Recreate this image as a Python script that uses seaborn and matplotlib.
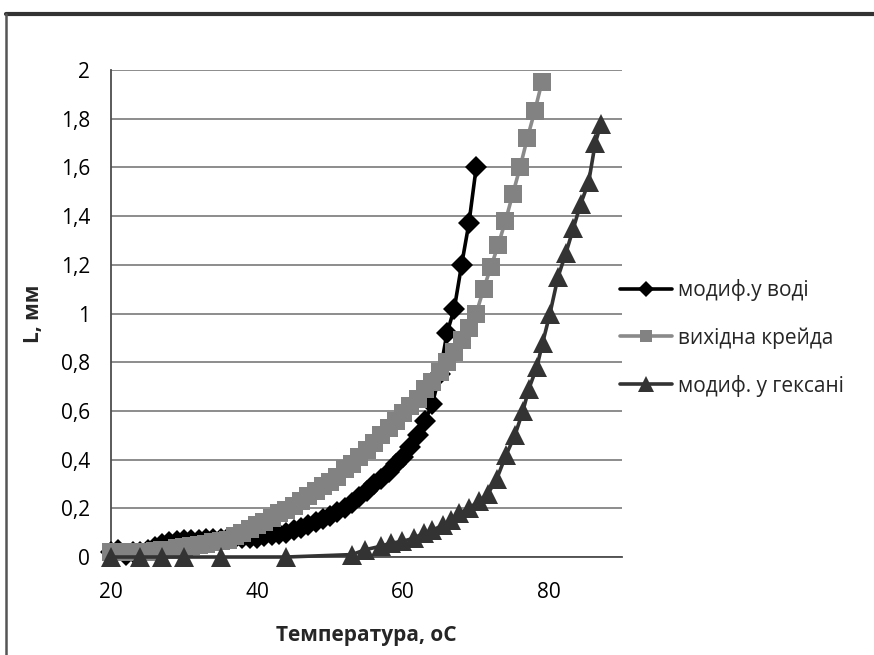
import matplotlib
matplotlib.use('Agg')
import matplotlib.pyplot as plt
from matplotlib.lines import Line2D
import seaborn as sns
import pandas as pd

# модиф. у воді (чорні ромби)
voda_t = list(range(20, 71))
voda_L = [0.02, 0.03, 0.01, 0.02, 0.02, 0.03, 0.04, 0.055, 0.06, 0.065,
          0.07, 0.07, 0.07, 0.075, 0.075, 0.075, 0.08, 0.08, 0.08, 0.08,
          0.08, 0.085, 0.09, 0.095, 0.10, 0.11, 0.12, 0.13, 0.145, 0.155,
          0.17, 0.185, 0.20, 0.22, 0.245, 0.27, 0.30, 0.32, 0.35, 0.38,
          0.41, 0.45, 0.50, 0.56, 0.63, 0.75, 0.92, 1.02, 1.20, 1.37,
          1.60]

# вихідна крейда (сірі квадрати)
kreyda_t = list(range(20, 80))
kreyda_L = [0.02, 0.02, 0.02, 0.02, 0.02, 0.02, 0.025, 0.03, 0.03, 0.035,
            0.04, 0.045, 0.05, 0.055, 0.06, 0.065, 0.07, 0.085, 0.10, 0.115,
            0.13, 0.145, 0.16, 0.18, 0.195, 0.21, 0.23, 0.25, 0.27, 0.29,
            0.31, 0.33, 0.36, 0.38, 0.41, 0.44, 0.47, 0.50, 0.53, 0.56,
            0.59, 0.62, 0.65, 0.69, 0.72, 0.76, 0.80, 0.84, 0.89, 0.94,
            1.00, 1.10, 1.19, 1.28, 1.38, 1.49, 1.60, 1.72, 1.83, 1.95]

# модиф. у гексані (темні трикутники)
heksan_t = [20, 24, 27, 30, 35, 44, 53, 54.8, 56.9, 58.3, 59.9, 61.5, 62.9,
            64.0, 65.4, 66.5, 67.7, 69.0, 70.4, 71.6, 72.8, 74.1, 75.3, 76.4,
            77.2, 78.3, 79.1, 80.1, 81.2, 82.3, 83.3, 84.3, 85.4, 86.3, 87.1]
heksan_L = [0, 0, 0, 0, 0, 0, 0.01, 0.03, 0.044, 0.057, 0.064, 0.078, 0.099,
            0.11, 0.13, 0.15, 0.18, 0.20, 0.23, 0.26, 0.32, 0.42, 0.50, 0.60,
            0.69, 0.78, 0.88, 1.00, 1.15, 1.25, 1.35, 1.45, 1.54, 1.70, 1.78]

series_names = ['модиф.у воді', 'вихідна крейда', 'модиф. у гексані']

x_ticks = [20, 40, 60, 80]
y_ticks = [0, 0.2, 0.4, 0.6, 0.8, 1.0, 1.2, 1.4, 1.6, 1.8, 2.0]
y_tick_labels = ['0', '0,2', '0,4', '0,6', '0,8', '1', '1,2', '1,4', '1,6', '1,8', '2']

sns.set_theme(style='white')
plt.rcParams['font.family'] = ['Open Sans', 'DejaVu Sans']

fig = plt.figure(figsize=(8.74, 6.55), dpi=100)
ax = fig.add_axes([0.127, 0.1496, 0.585, 0.7435])

sns.lineplot(x=voda_t, y=voda_L, ax=ax, color='black', lw=2.6,
             marker='D', markersize=11.5, markeredgewidth=0, label=series_names[0],
             clip_on=False, zorder=3)
sns.lineplot(x=kreyda_t, y=kreyda_L, ax=ax, color='#8a8a8a', lw=2.6,
             marker='s', markersize=13, markerfacecolor='#828282', markeredgewidth=0,
             label=series_names[1], clip_on=False, zorder=4)
sns.lineplot(x=heksan_t, y=heksan_L, ax=ax, color='#333333', lw=2.6,
             marker='^', markersize=15, markeredgewidth=0, label=series_names[2],
             clip_on=False, zorder=5)

ax.set_xlim(20, 90)
ax.set_ylim(0, 2)
ax.set_xticks(x_ticks)
ax.set_yticks(y_ticks, labels=y_tick_labels)
ax.yaxis.grid(True, color='#8c8c8c', lw=1.4)
ax.xaxis.grid(False)
ax.set_axisbelow(True)

for s in ['top', 'right']:
    ax.spines[s].set_visible(False)
for s in ['left', 'bottom']:
    ax.spines[s].set_color('#4d4d4d')
    ax.spines[s].set_linewidth(1.3)

ax.tick_params(axis='both', which='major', direction='out', length=6, width=1.2,
               color='#4d4d4d', labelsize=15, labelcolor='black')
ax.tick_params(axis='y', pad=9)
ax.tick_params(axis='x', pad=12)

ax.set_xlabel('Температура, оС', fontsize=15, fontweight='bold', labelpad=16)
ax.set_ylabel('L, мм', fontsize=15, fontweight='bold', labelpad=12)

leg = ax.legend(loc='center left', bbox_to_anchor=(0.709, 0.484),
                bbox_transform=fig.transFigure, frameon=False, fontsize=15,
                handlelength=2.5, handletextpad=0.3, labelspacing=1.25,
                borderpad=0, borderaxespad=0)
for h, ms in zip(leg.legend_handles, [8.5, 9, 11]):
    h.set_markersize(ms)

# рамка діаграми
fig.add_artist(Line2D([0.007, 1.0], [0.979, 0.979], transform=fig.transFigure,
                      color='#333333', lw=3))
fig.add_artist(Line2D([0.007, 0.007], [0.0, 0.979], transform=fig.transFigure,
                      color='#555555', lw=1.8))

fig.savefig('out.png', dpi=100)
